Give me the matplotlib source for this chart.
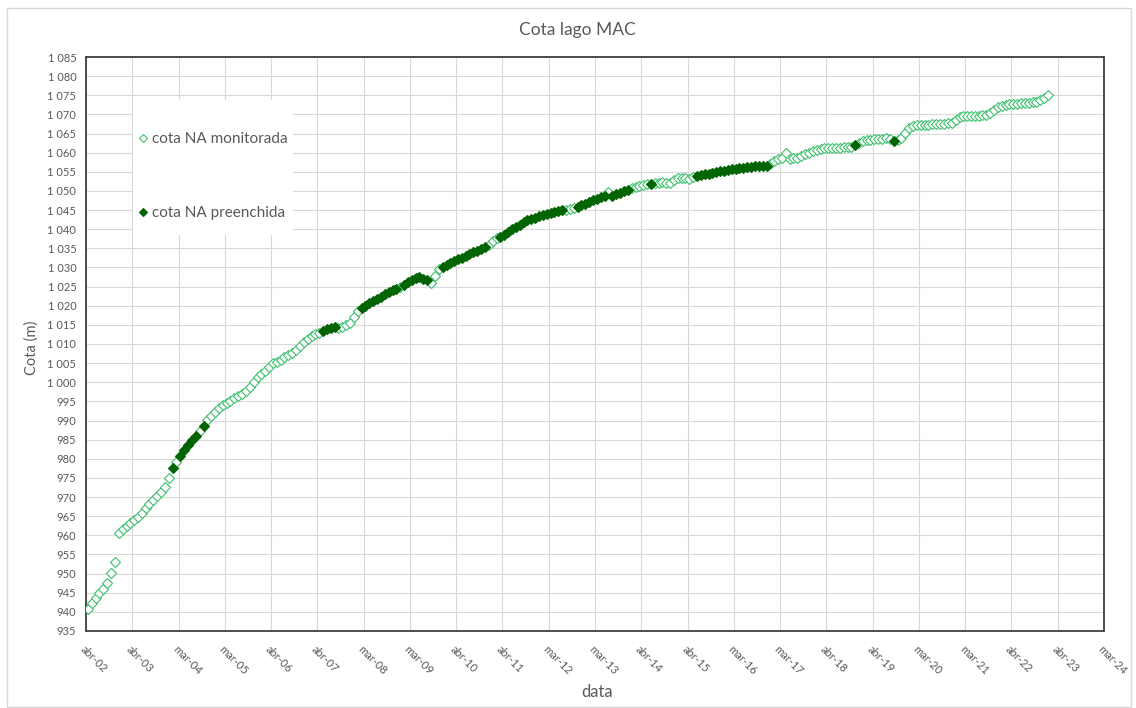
import datetime
import numpy as np
import pandas as pd
import matplotlib
matplotlib.use("Agg")
import matplotlib.pyplot as plt
import matplotlib.dates as mdates
from matplotlib.patches import Rectangle

plt.rcParams['font.family'] = ['Lato', 'DejaVu Sans']

# cota mensal (m), de abr/2002 a jan/2023
cota_2002 = [940.7, 942.2, 943.5, 944.8, 946.0, 947.6, 950.1, 953.0, 960.5]
cota_2003 = [961.6, 962.5, 963.3, 964.0, 964.9, 965.8, 967.1, 968.2, 969.2, 970.3, 971.2, 972.7]
cota_2004 = [974.9, 977.7, 979.2, 980.8, 982.2, 983.5, 984.8, 986.0, 987.2, 988.5, 990.1, 991.2]
cota_2005 = [992.2, 993.2, 994.1, 994.7, 995.2, 995.8, 996.4, 997.0, 997.8, 998.8, 1000.2, 1001.3]
cota_2006 = [1002.2, 1003.0, 1004.0, 1005.0, 1005.4, 1005.9, 1006.5, 1007.1, 1007.7, 1008.5, 1009.4, 1010.4]
cota_2007 = [1011.3, 1012.1, 1012.6, 1013.0, 1013.3, 1013.8, 1014.2, 1014.5, 1014.2, 1014.4, 1015.0, 1015.6]
cota_2008 = [1017.0, 1018.6, 1019.4, 1020.0, 1020.6, 1021.2, 1021.8, 1022.4, 1023.0, 1023.5, 1024.0, 1024.3]
cota_2009 = [1024.9, 1025.5, 1026.1, 1026.7, 1027.2, 1027.5, 1027.0, 1026.6, 1026.0, 1027.8, 1029.6, 1030.2]
cota_2010 = [1030.7, 1031.2, 1031.6, 1032.1, 1032.6, 1033.0, 1033.5, 1034.0, 1034.4, 1034.9, 1035.4, 1036.0]
cota_2011 = [1037.0, 1037.8, 1037.9, 1038.6, 1039.3, 1040.0, 1040.6, 1041.2, 1041.8, 1042.3, 1042.7, 1043.0]
cota_2012 = [1043.4, 1043.7, 1044.0, 1044.3, 1044.5, 1044.7, 1045.0, 1045.0, 1045.2, 1045.5, 1045.8, 1046.2]
cota_2013 = [1046.7, 1047.1, 1047.5, 1047.9, 1048.4, 1048.8, 1049.8, 1048.7, 1049.1, 1049.5, 1049.9, 1050.3]
cota_2014 = [1050.7, 1051.0, 1051.3, 1051.6, 1051.9, 1051.7, 1052.0, 1052.2, 1052.3, 1052.0, 1052.2, 1052.8]
cota_2015 = [1053.3, 1053.5, 1053.4, 1053.2, 1053.6, 1054.0, 1054.2, 1054.3, 1054.5, 1054.7, 1054.9, 1055.1]
cota_2016 = [1055.3, 1055.5, 1055.7, 1055.8, 1056.0, 1056.1, 1056.2, 1056.3, 1056.4, 1056.4, 1056.5, 1056.6]
cota_2017 = [1057.0, 1057.8, 1058.3, 1058.6, 1059.8, 1058.4, 1058.5, 1058.7, 1059.1, 1059.6, 1060.0, 1060.4]
cota_2018 = [1060.7, 1061.0, 1061.1, 1061.2, 1061.2, 1061.3, 1061.3, 1061.4, 1061.5, 1061.6, 1062.0, 1062.6]
cota_2019 = [1063.0, 1063.2, 1063.4, 1063.5, 1063.6, 1063.7, 1063.8, 1063.7, 1063.0, 1063.3, 1063.9, 1065.2]
cota_2020 = [1066.5, 1066.9, 1067.1, 1067.2, 1067.3, 1067.3, 1067.4, 1067.5, 1067.6, 1067.6, 1067.7, 1067.8]
cota_2021 = [1068.5, 1069.3, 1069.5, 1069.6, 1069.6, 1069.7, 1069.7, 1069.8, 1069.9, 1070.3, 1071.2, 1072.0]
cota_2022 = [1072.3, 1072.5, 1072.6, 1072.7, 1072.8, 1072.9, 1073.0, 1073.1, 1073.2, 1073.3, 1073.8, 1074.4]
cota_2023 = [1075.1]

# meses em que a cota foi preenchida (inicio, fim)
preenchida = [('2004-02', '2004-02'), ('2004-04', '2004-08'), ('2004-10', '2004-10'),
              ('2007-05', '2007-08'), ('2008-03', '2008-12'), ('2009-02', '2009-08'),
              ('2009-12', '2010-11'), ('2011-03', '2012-07'), ('2012-11', '2013-06'),
              ('2013-08', '2013-12'), ('2014-06', '2014-06'), ('2015-06', '2016-12'),
              ('2018-11', '2018-11'), ('2019-09', '2019-09')]

meses_pt = ['jan', 'fev', 'mar', 'abr', 'mai', 'jun', 'jul', 'ago', 'set', 'out', 'nov', 'dez']

cota = np.array(cota_2002 + cota_2003 + cota_2004 + cota_2005 + cota_2006 + cota_2007
                + cota_2008 + cota_2009 + cota_2010 + cota_2011 + cota_2012 + cota_2013
                + cota_2014 + cota_2015 + cota_2016 + cota_2017 + cota_2018 + cota_2019
                + cota_2020 + cota_2021 + cota_2022 + cota_2023)
meses = pd.date_range('2002-04-01', periods=len(cota), freq='MS')
datas = meses + pd.Timedelta(days=14)

filled = np.zeros(len(cota), dtype=bool)
for ini, fim in preenchida:
    filled |= (meses >= pd.Timestamp(ini)) & (meses <= pd.Timestamp(fim))

W, H = 1136, 708
fig = plt.figure(figsize=(W / 100, H / 100), dpi=100)
ax = fig.add_axes([86 / W, 1 - 631 / H, 1018 / W, 574 / H])

# borda externa do grafico
fig.add_artist(Rectangle((7 / W, 0.001), 1124 / W, 1 - 8 / H - 0.001, transform=fig.transFigure,
                         fill=False, edgecolor='#d9d9d9', linewidth=1.0))

txt = '#595959'
ax.plot(datas[~filled], cota[~filled], linestyle='none', marker='D', markersize=5.4,
        markerfacecolor='white', markeredgecolor='#3dbf6e', markeredgewidth=0.8,
        label='cota NA monitorada', zorder=3)
ax.plot(datas[filled], cota[filled], linestyle='none', marker='D', markersize=5.4,
        markerfacecolor='#006400', markeredgecolor='#006400', markeredgewidth=0.8,
        label='cota NA preenchida', zorder=4)

# eixo x: passo de 365,25 dias a partir de 1/abr/2002
x0 = mdates.date2num(datetime.datetime(2002, 4, 1))
xticks = [x0 + k * 365.25 for k in range(23)]
xlabels = []
for t in xticks:
    d = mdates.num2date(t)
    xlabels.append('%s-%02d' % (meses_pt[d.month - 1], d.year % 100))
ax.set_xlim(xticks[0], xticks[-1])
ax.set_xticks(xticks)
ax.set_xticklabels(xlabels, rotation=-45, ha='left', va='top', rotation_mode='anchor',
                   fontsize=8, color=txt)

yticks = np.arange(935, 1086, 5)
ax.set_ylim(935, 1085)
ax.set_yticks(yticks)
ax.set_yticklabels(['{:,}'.format(v).replace(',', ' ') for v in yticks], fontsize=8, color=txt)

ax.tick_params(axis='both', length=0)
ax.tick_params(axis='x', pad=9)
ax.tick_params(axis='y', pad=7)
ax.grid(True, color='#d9d9d9', linewidth=0.8)
ax.set_axisbelow(True)
for s in ax.spines.values():
    s.set_color('#404040')
    s.set_linewidth(1.3)

fig.text(577 / W, 1 - 30 / H, 'Cota lago MAC', ha='center', va='center', fontsize=12.5, color=txt)
fig.text(32 / W, 1 - 348 / H, 'Cota (m)', ha='center', va='center', rotation=90, fontsize=10.5, color=txt)
fig.text(597 / W, 1 - 692 / H, 'data', ha='center', va='center', fontsize=12, color=txt)

# caixa branca da legenda
ax.add_patch(Rectangle(((133 - 86) / 1018, (631 - 235) / 574), 160 / 1018, 135 / 574,
                       transform=ax.transAxes, facecolor='white', edgecolor='none', zorder=2.5))
leg = ax.legend(loc='upper left', bbox_to_anchor=((138.5 - 86) / 1018, (631 - 132) / 574),
                frameon=False, fontsize=11, labelcolor=txt, handlelength=0.6, handletextpad=0.3,
                labelspacing=3.95, borderpad=0, borderaxespad=0, markerscale=0.8)

fig.savefig('out.png', dpi=100)
